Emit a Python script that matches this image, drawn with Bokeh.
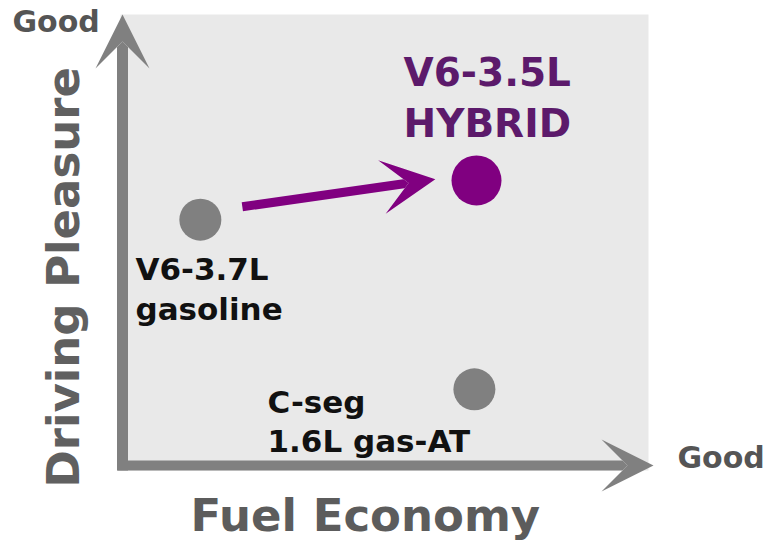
from bokeh.plotting import figure
from bokeh.models import Range1d, Arrow, VeeHead, ColumnDataSource
from bokeh.core.properties import value
from bokeh.embed import file_html
from bokeh.resources import INLINE
import math

# ---- data (scores on 0-10 scales) ----
names = ["V6-3.7L gasoline", "V6-3.5L HYBRID", "C-seg 1.6L gas-AT"]
fuel_economy = [1.48, 6.73, 6.69]
driving_pleasure = [5.45, 6.32, 1.69]
point_colors = ["#808080", "#800080", "#808080"]
point_sizes = [42, 50, 42]
label_lines = [["V6-3.7L", "gasoline"], ["V6-3.5L", "HYBRID"], ["C-seg", "1.6L gas-AT"]]
axis_end_label = "Good"
x_title = "Fuel Economy"
y_title = "Driving Pleasure"

# ---- layout helpers (page pixel -> data) ----
W, H = 768, 542
OX, OY = 122.0, 465.0      # page pixel of data origin
KX, KY = 52.6, 45.1        # px per unit
BL = 0.385                 # baseline correction factor (em)


def sx(px):
    return (px - OX) / KX


def sy(py):
    return (OY - py) / KY


def by(baseline, size):
    return sy(baseline - BL * size)


p = figure(width=W, height=H, output_backend="svg", toolbar_location=None,
           x_axis_type=None, y_axis_type=None, min_border=0,
           x_range=Range1d(sx(0), sx(W)), y_range=Range1d(sy(H), sy(0)))
p.outline_line_color = None
p.grid.visible = False
p.background_fill_color = "white"
p.border_fill_color = "white"

# panel
p.quad(left=sx(120), right=sx(648), top=sy(14), bottom=sy(470),
       fill_color="#e9e9e9", line_color=None)

AX = "#808080"
# y axis arrow
p.add_layout(Arrow(end=VeeHead(size=54, fill_color=AX, line_color=AX, line_width=0),
                   x_start=0, y_start=sy(470), x_end=0, y_end=sy(14),
                   line_color=AX, line_width=11, line_cap="butt"))
# x axis arrow
p.add_layout(Arrow(end=VeeHead(size=52, fill_color=AX, line_color=AX, line_width=0),
                   x_start=sx(117), y_start=0, x_end=sx(653), y_end=0,
                   line_color=AX, line_width=10, line_cap="butt"))

# points
src = ColumnDataSource(dict(x=fuel_economy, y=driving_pleasure, c=point_colors, s=point_sizes))
p.scatter("x", "y", source=src, size="s", fill_color="c", line_color=None)

# purple arrow from gasoline toward hybrid
x0, y0 = fuel_economy[0], driving_pleasure[0]
x1, y1 = fuel_economy[1], driving_pleasure[1]
t0, t1 = 0.152, 0.851
dy = 7 / KY
PUR = "#800080"
p.add_layout(Arrow(end=VeeHead(size=54, fill_color=PUR, line_color=PUR, line_width=0),
                   x_start=x0 + t0 * (x1 - x0), y_start=y0 + t0 * (y1 - y0) + dy,
                   x_end=x0 + t1 * (x1 - x0), y_end=y0 + t1 * (y1 - y0) + dy,
                   line_color=PUR, line_width=9, line_cap="butt"))

FONT = value("DejaVu Sans")
texts = []


def label(xs_, bases, size, lines, color, angle=0.0):
    return p.text(x=xs_, y=[by(b, size) for b in bases], text=lines, angle=angle,
                  text_font=FONT, text_font_style="bold", text_font_size=value(f"{size}px"),
                  text_color=color, text_baseline="alphabetic", text_align="left")


# point labels
texts.append(label([sx(135)] * 2, [280, 320], 31, label_lines[0], "#111111"))
texts.append(label([sx(403)] * 2, [87, 138], 39, label_lines[1], "#5c1a6b"))
texts.append(label([sx(267)] * 2, [413, 452], 31, label_lines[2], "#111111"))

# axis end labels
texts.append(label([sx(12), sx(677)], [33, 469], 30, [axis_end_label] * 2, "#555555"))

# axis titles
TS = 45
texts.append(label([sx(190)], [532], TS, [x_title], "#5c5c5c"))
texts.append(p.text(x=[sx(80 - BL * TS)], y=[sy(487)], text=[y_title], angle=math.pi / 2,
                    text_font=FONT, text_font_style="bold", text_font_size=value(f"{TS}px"),
                    text_color="#606060", text_baseline="alphabetic", text_align="left"))
for r in texts:
    r.level = "overlay"

open("out.html", "w").write(file_html(p, INLINE))
